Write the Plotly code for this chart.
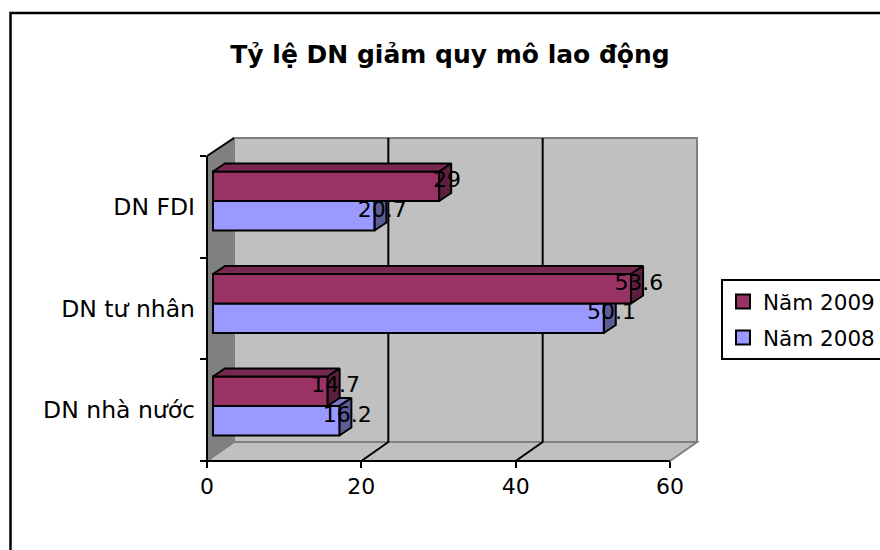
import plotly.graph_objects as go

categories = ["DN nhà nước", "DN tư nhân", "DN FDI"]
values_2008 = [16.2, 50.1, 20.7]
values_2009 = [14.7, 53.6, 29]
x_ticks = [0, 20, 40, 60]

C2009, C2009_TOP, C2009_SIDE = "#993366", "#772850", "#5C1F3D"
C2008, C2008_TOP, C2008_SIDE = "#9999FF", "#7777C6", "#5C5C99"
FONT = "DejaVu Sans"
FS = 22

W, H = 880, 550
FIG_W = 920                            # the legend box runs off the right edge of the window
L, R, T, B = 207, 697, 138, 461        # plot area in pixels
PW, PH = R - L, B - T
PAPER_W = FIG_W - L
DOM = [0, PW / PAPER_W]
# axis scales (px per unit)
AX_K = 463 / 60
AY_K = 305 / 3
# bars live on a slightly displaced front plane
BX_K = 7.8
BY_K = 102.5
BX0 = 213
BY0 = 406
BAR_W = 29.5 / BY_K
DX = 12 / BX_K
DY = 8 / BY_K

bx_range = [(L - BX0) / BX_K, (R - BX0) / BX_K]
by_range = [(BY0 - B) / BY_K, (BY0 - T) / BY_K]


def faces(values, low, high):
    top_x, top_y, side_x, side_y = [], [], [], []
    for i, v in enumerate(values):
        y0, y1 = i + low, i + high
        top_x += [0, v, v + DX, DX, 0, None]
        top_y += [y1, y1, y1 + DY, y1 + DY, y1, None]
        side_x += [v, v + DX, v + DX, v, v, None]
        side_y += [y0, y0 + DY, y1 + DY, y1, y0, None]
    return top_x, top_y, side_x, side_y


def poly(x, y, color, xa, ya):
    return go.Scatter(x=x, y=y, xaxis=xa, yaxis=ya, mode="lines", fill="toself",
                      fillcolor=color, line=dict(color="#000000", width=2),
                      hoverinfo="skip", showlegend=False)


pos = list(range(len(categories)))
fig = go.Figure()

# 2008 depth faces lie behind everything else
tx, ty, sx, sy = faces(values_2008, -BAR_W, 0)
fig.add_trace(poly(tx, ty, C2008_TOP, "x2", "y2"))
fig.add_trace(poly(sx, sy, C2008_SIDE, "x2", "y2"))

# front faces
for vals, col, off, name in ((values_2008, C2008, -BAR_W, "Năm 2008"),
                             (values_2009, C2009, 0, "Năm 2009")):
    fig.add_trace(go.Bar(x=vals, y=pos, orientation="h", width=BAR_W, offset=off,
                         marker=dict(color=col, line=dict(color="#000000", width=2)),
                         xaxis="x3", yaxis="y3", name=name, showlegend=False))

# 2009 depth faces
tx, ty, sx, sy = faces(values_2009, 0, BAR_W)
fig.add_trace(poly(tx, ty, C2009_TOP, "x3", "y3"))
fig.add_trace(poly(sx, sy, C2009_SIDE, "x3", "y3"))

# data labels
lx, ly, lt = [], [], []
for vals, off in ((values_2008, -BAR_W / 2), (values_2009, BAR_W / 2)):
    for i, v in enumerate(vals):
        lx.append(v + 1)
        ly.append(i + off + 0.045)
        lt.append(str(v))
fig.add_trace(go.Scatter(x=lx, y=ly, text=lt, mode="text", xaxis="x3", yaxis="y3",
                         textposition="middle center",
                         textfont=dict(family=FONT, size=FS, color="#000000"),
                         showlegend=False, hoverinfo="skip"))

# legend keys
for name, col in (("Năm 2009", C2009), ("Năm 2008", C2008)):
    fig.add_trace(go.Scatter(x=[None], y=[None], mode="markers", name=name, legendgroup=name,
                             marker=dict(symbol="square", size=14, color=col,
                                         line=dict(color="#000000", width=2))))


def px(x):
    return (x - L) / PAPER_W


def py(y):
    return (B - y) / PH


WALL = "#C0C0C0"
EDGE = "#808080"
shapes = []


def path(points, fill=None, line=EDGE, width=1.5):
    d = "M " + " L ".join(f"{px(a):.5f},{py(b):.5f}" for a, b in points)
    if fill:
        d += " Z"
    shapes.append(dict(type="path", path=d, xref="paper", yref="paper", layer="below",
                       fillcolor=fill or "rgba(0,0,0,0)",
                       line=dict(color=line, width=width)))


# walls and floor
path([(234, 138), (697, 138), (697, 442), (234, 442)], WALL, EDGE, 2)
path([(207, 461), (670, 461), (697, 442), (234, 442)], WALL, EDGE, 2)
path([(207, 156), (234, 138), (234, 442), (207, 461)], "#808080", "#808080", 1)
# gridlines
for t in x_ticks[1:-1]:
    xf = L + t * AX_K
    path([(xf, 461), (xf + 27, 442), (xf + 27, 138)], None, "#000000", 2)
path([(207, 156), (234, 138)], None, "#000000", 2)
# axis lines
path([(207, 156), (207, 461), (670, 461)], None, "#000000", 2)
# frame
path([(10.5, 551), (10.5, 13), (FIG_W, 13)], None, "#000000", 2.5)

fig.update_layout(
    width=FIG_W, height=H, autosize=False,
    margin=dict(l=L, r=0, t=T, b=H - B),
    paper_bgcolor="#FFFFFF", plot_bgcolor="rgba(0,0,0,0)",
    font=dict(family=FONT, size=FS, color="#000000"),
    title=dict(text="<b>Tỷ lệ DN giảm quy mô lao động</b>", x=450 / FIG_W, y=1 - 54 / H,
               xanchor="center", yanchor="middle", font=dict(family=FONT, size=25)),
    xaxis=dict(domain=DOM, range=[0, PW / AX_K], tickvals=x_ticks, ticks="outside", ticklen=6,
               tickwidth=2, tickcolor="#000000", showgrid=False, zeroline=False,
               showline=False, tickfont=dict(family=FONT, size=FS)),
    yaxis=dict(range=[0, PH / AY_K], tickvals=[0.5, 1.5, 2.5], ticktext=categories,
               ticks="", showgrid=False, zeroline=False, showline=False,
               ticklabelstandoff=11, tickfont=dict(family=FONT, size=23.5),
               minor=dict(tickvals=[0, 1, 2, 3], ticks="outside", ticklen=6,
                          tickwidth=2, tickcolor="#000000", showgrid=False)),
    xaxis2=dict(domain=DOM, range=bx_range, overlaying="x", visible=False, anchor="y2"),
    yaxis2=dict(range=by_range, overlaying="y", visible=False, anchor="x2"),
    xaxis3=dict(domain=DOM, range=bx_range, overlaying="x", visible=False, anchor="y3"),
    yaxis3=dict(range=by_range, overlaying="y", visible=False, anchor="x3"),
    legend=dict(x=px(721), y=py(279), xanchor="left", yanchor="top",
                bgcolor="#FFFFFF", bordercolor="#000000", borderwidth=2,
                traceorder="grouped", tracegroupgap=5, font=dict(family=FONT, size=21.5),
                itemclick=False, itemdoubleclick=False),
    shapes=shapes,
    showlegend=True,
)

fig.write_html("out.html",
               post_script="document.body.style.margin='0';document.body.style.overflow='hidden';"
                           "document.documentElement.style.overflow='hidden';",
               config=dict(displayModeBar=False))
